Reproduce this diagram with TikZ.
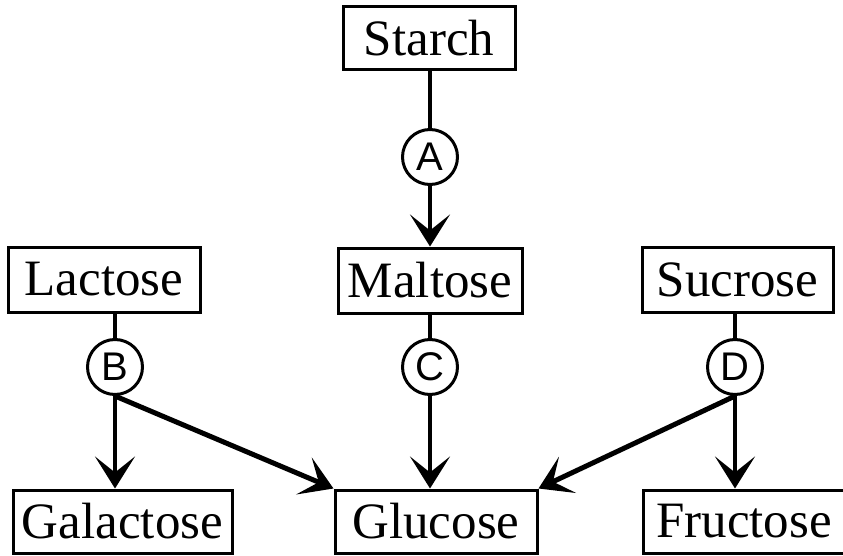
\documentclass[tikz,border=0pt]{standalone}
\usepackage{fontspec}
\setmainfont{Liberation Serif}
\newfontfamily\circfont{Liberation Sans}
\usetikzlibrary{arrows.meta}
\begin{document}
\begin{tikzpicture}[x=1pt,y=-1pt,
  box/.style={draw, line width=3pt, inner sep=0pt, font=\fontsize{51}{51}\selectfont},
  enz/.style={draw, circle, line width=3pt, minimum size=55pt, inner sep=0pt, font=\circfont\fontsize{40}{40}\selectfont},
  link/.style={line width=3.5pt},
  arr/.style={line width=3.5pt, -{Stealth[length=32pt,width=40pt,inset=16pt]}},
  diagarr/.style={line width=5pt, -{Stealth[length=32pt,width=40pt,inset=16pt]}},
]
\useasboundingbox (0,0) rectangle (843,556);
\fill[white] (0,0) rectangle (843,556);
\node[box, minimum width=172pt, minimum height=63pt] (starch) at (429,38.5) {Starch};
\node[box, minimum width=184pt, minimum height=65pt] (maltose) at (430,280.5) {Maltose};
\node[box, minimum width=192pt, minimum height=65pt] (lactose) at (104,279.5) {Lactose};
\node[box, minimum width=191pt, minimum height=65pt] (sucrose) at (737.5,279.5) {Sucrose};
\node[box, minimum width=219pt, minimum height=63pt] (galactose) at (122.5,521.5) {Galactose};
\node[box, minimum width=202pt, minimum height=63pt] (glucose) at (436,521.5) {Glucose};
\node[box, minimum width=202pt, minimum height=63pt] (fructose) at (744,521.5) {Fructose};
\node[enz] (A) at (430,157) {A};
\node[enz] (B) at (115,367) {B};
\node[enz] (C) at (430,367) {C};
\node[enz] (D) at (735,367) {D};
\draw[link] (A.north) -- (A.north |- starch.south);
\draw[arr] (A.south) -- (A.south |- maltose.north);
\draw[link] (B.north) -- (B.north |- lactose.south);
\draw[arr] (B.south) -- (B.south |- galactose.north);
\draw[diagarr] (B.south) -- (glucose.north west);
\draw[link] (C.north) -- (C.north |- maltose.south);
\draw[arr] (C.south) -- (C.south |- glucose.north);
\draw[link] (D.north) -- (D.north |- sucrose.south);
\draw[arr] (D.south) -- (D.south |- fructose.north);
\draw[diagarr] (D.south) -- (glucose.north east);
\end{tikzpicture}
\end{document}
